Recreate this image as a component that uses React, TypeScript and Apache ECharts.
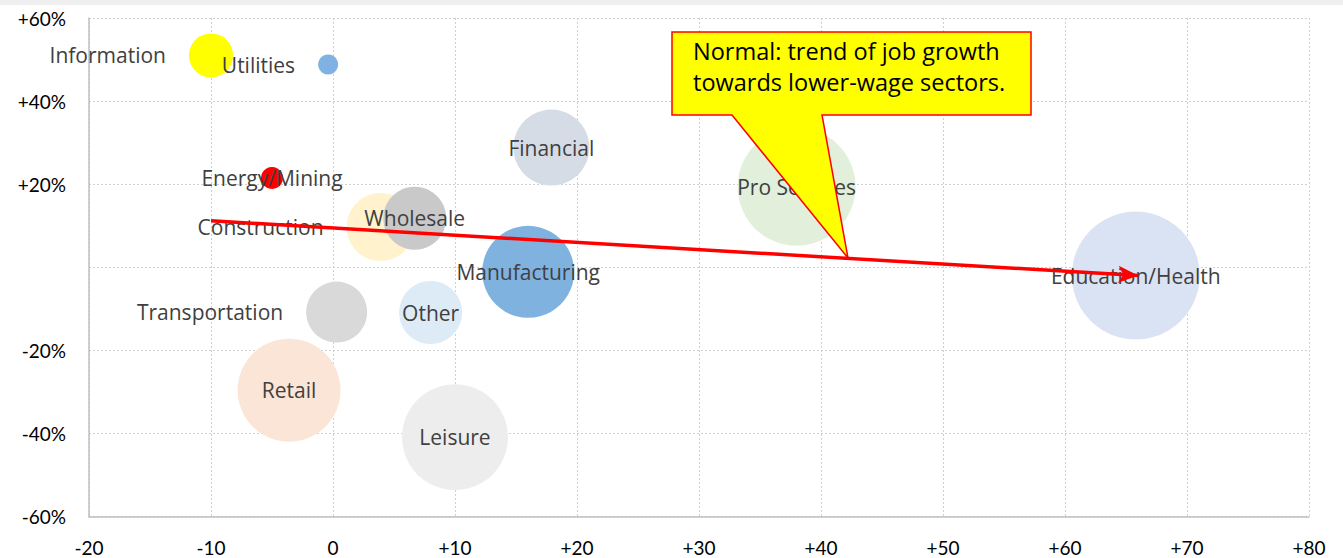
import React, { useEffect, useRef } from "react";
import * as echarts from "echarts";

const sectors = ["Information", "Utilities", "Energy/Mining", "Construction", "Wholesale", "Financial", "Pro Services", "Manufacturing", "Education/Health", "Transportation", "Other", "Retail", "Leisure"];
const xValues = [-10, -0.4, -5, 3.9, 6.7, 17.9, 38, 16, 65.8, 0.3, 8, -3.6, 10];
const yValues = [51, 48.8, 21.5, 9.7, 11.8, 28.8, 19.4, -1.1, -2, -10.8, -10.9, -29.6, -40.9];
const bubbleSizes = [4.4, 2.0, 2.2, 6.8, 6.3, 7.6, 11.8, 9.2, 12.8, 6.1, 6.3, 10.3, 10.6];
const xTicks = [-20, -10, 0, 10, 20, 30, 40, 50, 60, 70, 80];
const yTicks = [-60, -40, -20, 0, 20, 40, 60];
const trendStart = [-10, 11.2];
const trendEnd = [66, -2];
const calloutLines = ["Normal: trend of job growth", "towards lower-wage sectors."];

const colors = ["#FFFF00", "#7FB2E2", "#FF0000", "#FFF2CC", "#C9C9C9", "#D6DCE5", "#E2EFDA", "#80B2E0", "#DAE3F3", "#D9D9D9", "#DDEBF7", "#FBE5D6", "#EDEDED"];
const leftLabelled = ["Information", "Utilities", "Construction", "Transportation"];

const FONT = "'Open Sans', Lato, sans-serif";
const TICKFONT = "Lato, 'Open Sans', sans-serif";

export default function App() {
  const ref = useRef<HTMLDivElement>(null);
  useEffect(() => {
    document.body.style.margin = "0";
    if (!ref.current) return;
    const chart = echarts.init(ref.current, undefined, { renderer: "svg" });
    const data = sectors.map((name, i) => ({
      name,
      value: [xValues[i], yValues[i], bubbleSizes[i]],
      itemStyle: { color: colors[i], opacity: 1 },
      label: leftLabelled.includes(name)
        ? { position: "left", distance: 23 }
        : { position: "inside" },
    }));
    chart.setOption({
      animation: false,
      textStyle: { fontFamily: FONT },
      grid: { left: 89, right: 34, top: 18, bottom: 41.5 },
      xAxis: {
        type: "value",
        min: xTicks[0],
        max: xTicks[xTicks.length - 1],
        interval: 10,
        axisLine: { show: true, onZero: false, lineStyle: { color: "#BFBFBF", width: 1.5 } },
        axisTick: { show: false },
        axisLabel: {
          color: "#000",
          fontSize: 19,
          fontFamily: TICKFONT,
          margin: 21,
          formatter: (v: number) => (v > 0 ? "+" + v : String(v)),
        },
        splitLine: { show: true, lineStyle: { color: "#D0D0D0", type: [2, 2], width: 1 } },
      },
      yAxis: {
        type: "value",
        min: yTicks[0],
        max: yTicks[yTicks.length - 1],
        interval: 20,
        axisLine: { show: true, onZero: false, lineStyle: { color: "#BFBFBF", width: 1.5 } },
        axisTick: { show: false },
        axisLabel: {
          color: "#000",
          fontSize: 19,
          fontFamily: TICKFONT,
          margin: 23,
          formatter: (v: number) => (v === 0 ? "" : (v > 0 ? "+" : "") + v + "%"),
        },
        splitLine: { show: true, lineStyle: { color: "#D0D0D0", type: [2, 2], width: 1 } },
      },
      series: [
        {
          type: "scatter",
          data,
          symbolSize: (val: number[]) => val[2] * 10,
          label: {
            show: true,
            formatter: "{b}",
            color: "#404040",
            fontSize: 21,
            fontFamily: FONT,
          },
          emphasis: { disabled: true },
          z: 2,
        },
        {
          type: "line",
          data: [],
          z: 5,
          markLine: {
            silent: true,
            symbol: ["none", "arrow"],
            symbolSize: [13, 20],
            label: { show: false },
            lineStyle: { color: "#FF0000", width: 3.5, type: "solid" },
            data: [[{ coord: trendStart }, { coord: trendEnd }]],
          },
        },
      ],
      graphic: [
        {
          type: "rect",
          shape: { x: 0, y: 0, width: 1343, height: 5 },
          style: { fill: "#EFEFEF" },
          z: 1,
        },
        {
          type: "polygon",
          z: 100,
          shape: {
            points: [
              [672, 32], [1031, 32], [1031, 115], [822, 115], [848, 258], [732, 115], [672, 115],
            ],
          },
          style: { fill: "#FFFF00", stroke: "#FF0000", lineWidth: 1.5 },
        },
        {
          type: "text",
          z: 101,
          x: 693,
          y: 51,
          style: {
            text: calloutLines[0],
            fill: "#000",
            fontSize: 23.5,
            fontFamily: FONT,
            verticalAlign: "middle",
          },
        },
        {
          type: "text",
          z: 101,
          x: 693,
          y: 82,
          style: {
            text: calloutLines[1],
            fill: "#000",
            fontSize: 23.5,
            fontFamily: FONT,
            verticalAlign: "middle",
          },
        },
      ],
    });
    return () => chart.dispose();
  }, []);
  return <div ref={ref} style={{ width: 1343, height: 558 }} />;
}
